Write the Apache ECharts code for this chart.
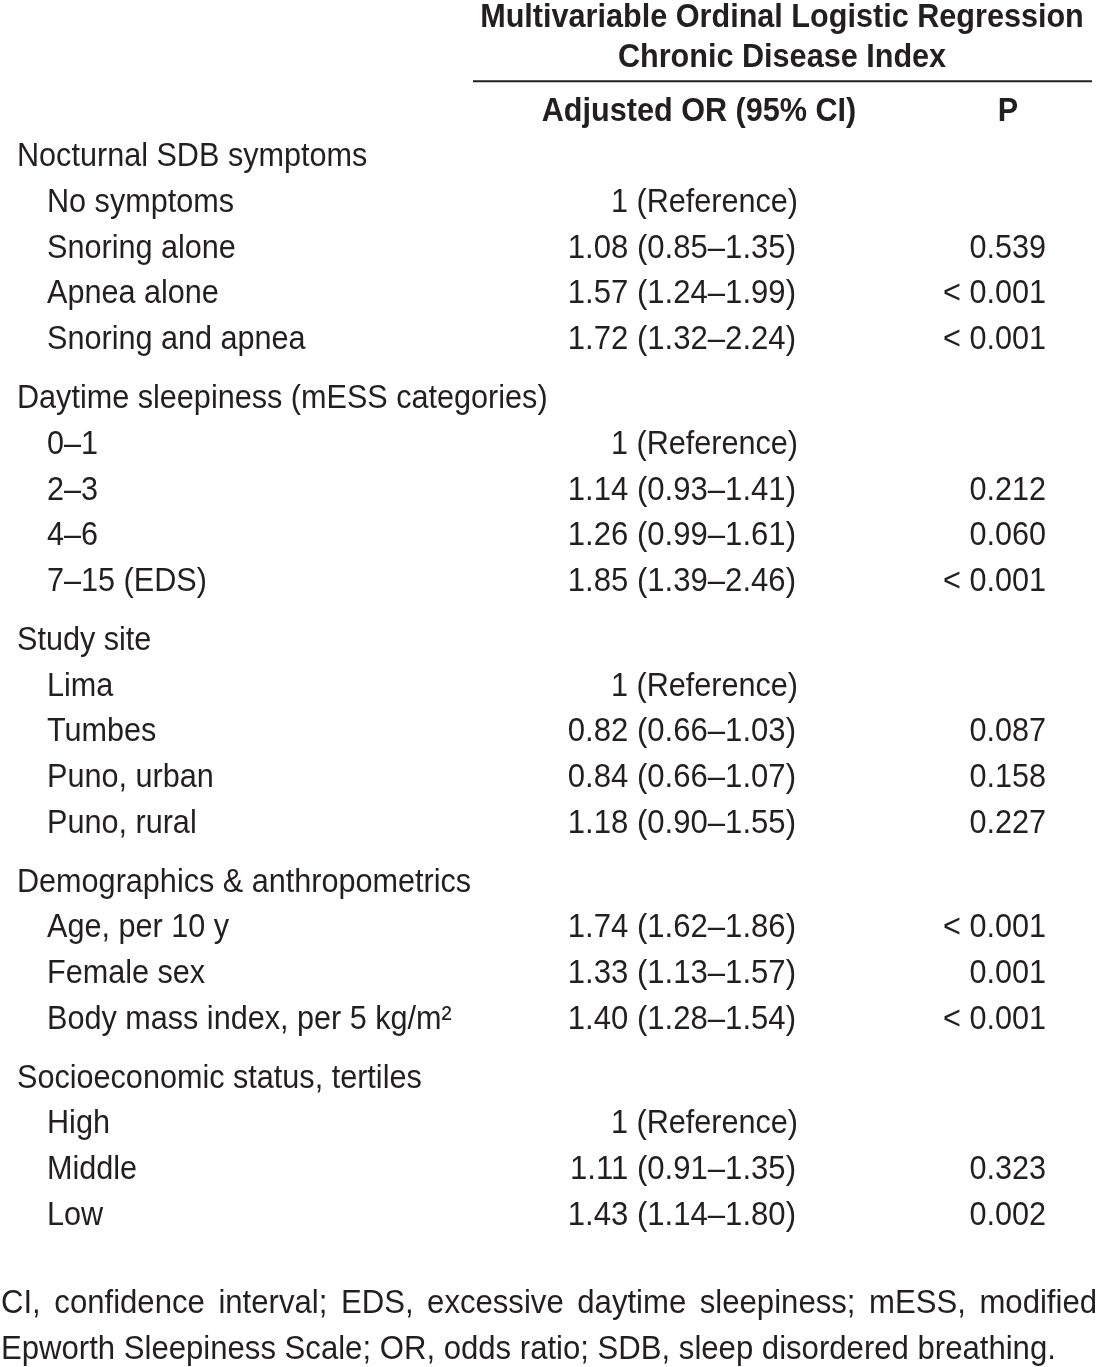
<!DOCTYPE html>
<html><head><meta charset="utf-8">
<script src="https://cdn.jsdelivr.net/npm/echarts@6/dist/echarts.min.js"></script>
<style>html,body{margin:0;padding:0;background:#fff}#chart{width:1097px;height:1367px}</style>
</head><body><div id="chart"></div>
<script>
// ---------- DATA ----------
const titleLines = ["Multivariable Ordinal Logistic Regression", "Chronic Disease Index"];
const columnHeaders = ["Adjusted OR (95% CI)", "P"];
const sections = ["Nocturnal SDB symptoms", "Daytime sleepiness (mESS categories)", "Study site", "Demographics & anthropometrics", "Socioeconomic status, tertiles"];
const variables = [
  ["No symptoms", "Snoring alone", "Apnea alone", "Snoring and apnea"],
  ["0–1", "2–3", "4–6", "7–15 (EDS)"],
  ["Lima", "Tumbes", "Puno, urban", "Puno, rural"],
  ["Age, per 10 y", "Female sex", "Body mass index, per 5 kg/m²"],
  ["High", "Middle", "Low"]
];
const oddsRatios = [[null, 1.08, 1.57, 1.72], [null, 1.14, 1.26, 1.85], [null, 0.82, 0.84, 1.18], [1.74, 1.33, 1.40], [null, 1.11, 1.43]];
const ciLower   = [[null, 0.85, 1.24, 1.32], [null, 0.93, 0.99, 1.39], [null, 0.66, 0.66, 0.90], [1.62, 1.13, 1.28], [null, 0.91, 1.14]];
const ciUpper   = [[null, 1.35, 1.99, 2.24], [null, 1.41, 1.61, 2.46], [null, 1.03, 1.07, 1.55], [1.86, 1.57, 1.54], [null, 1.35, 1.80]];
const pValues   = [[null, "0.539", "< 0.001", "< 0.001"], [null, "0.212", "0.060", "< 0.001"], [null, "0.087", "0.158", "0.227"], ["< 0.001", "0.001", "< 0.001"], [null, "0.323", "0.002"]];
const referenceLabel = "1 (Reference)";
const footnoteLines = [
  "CI, confidence interval; EDS, excessive daytime sleepiness; mESS, modified",
  "Epworth Sleepiness Scale; OR, odds ratio; SDB, sleep disordered breathing."
];

// ---------- LAYOUT / STYLE ----------
const W = 1097, H = 1367;
const ROW_PX = 45.7, FIRST_ROW_PX = 157;   // row pitch and first row middle
const SECTION_GAP = 0.29;                   // extra space before each section (in rows)
const FAMILY = '"Liberation Sans", Arial, Helvetica, sans-serif';
const FS = 34;
const FONT = FS + 'px ' + FAMILY;
const BOLD = 'bold ' + FS + 'px ' + FAMILY;
const INK = '#231f20';
const SX = 0.9, SX_NUM = 0.915, SX_FOOT = 0.915;
const COL = { section: 17, item: 47, orRight: 796, pRight: 1046, orHead: 699, pHead: 1008, title: 782, ruleL: 473, ruleR: 1092 };

// ---------- BUILD ROWS ----------
const rows = [];
let k = 0;
sections.forEach((sec, i) => {
  rows.push({ slot: k + i * SECTION_GAP, kind: 'section', label: sec });
  k++;
  variables[i].forEach((v, j) => {
    const or = oddsRatios[i][j];
    const orText = or == null ? referenceLabel : or.toFixed(2) + ' (' + ciLower[i][j].toFixed(2) + '–' + ciUpper[i][j].toFixed(2) + ')';
    rows.push({ slot: k + i * SECTION_GAP, kind: 'item', label: v, orText, isRef: or == null, p: pValues[i][j] || '' });
    k++;
  });
});
const lastSlot = rows[rows.length - 1].slot;
const footSlots = [lastSlot + 1.94, lastSlot + 2.93];

const measureCtx = document.createElement('canvas').getContext('2d');
function textW(str, font, sx) { measureCtx.font = font; return measureCtx.measureText(str).width * sx; }

function txt(x, y, text, font, align, sx) {
  return { type: 'text', x, y, scaleX: sx, style: { text, font, fill: INK, align, textAlign: align, verticalAlign: 'middle', textVerticalAlign: 'middle' } };
}

const chart = echarts.init(document.getElementById('chart'), null, { renderer: 'canvas' });
chart.setOption({
  backgroundColor: '#ffffff',
  animation: false,
  grid: { left: 0, right: 0, top: 0, bottom: 0 },
  xAxis: { type: 'value', min: 0, max: W, show: false },
  yAxis: { type: 'value', inverse: true, min: -FIRST_ROW_PX / ROW_PX, max: (H - FIRST_ROW_PX) / ROW_PX, show: false },
  series: [
    { // header block
      type: 'custom', silent: true, clip: false,
      data: [[0, -1]],
      renderItem: (params, api) => {
        const yHead = api.value(1);
        const t1 = api.coord([COL.title, yHead - 2.06]);
        const t2 = api.coord([COL.title, yHead - 1.175]);
        const rl = api.coord([COL.ruleL, yHead - 0.66]);
        const rr = api.coord([COL.ruleR, yHead - 0.66]);
        const h1 = api.coord([COL.orHead, yHead]);
        const h2 = api.coord([COL.pHead, yHead]);
        return { type: 'group', children: [
          txt(t1[0], t1[1], titleLines[0], BOLD, 'center', SX),
          txt(t2[0], t2[1], titleLines[1], BOLD, 'center', SX),
          { type: 'line', shape: { x1: rl[0], y1: rl[1], x2: rr[0], y2: rr[1] }, style: { stroke: INK, lineWidth: 2 } },
          txt(h1[0], h1[1], columnHeaders[0], BOLD, 'center', SX),
          txt(h2[0], h2[1], columnHeaders[1], BOLD, 'center', SX)
        ] };
      }
    },
    { // body rows
      type: 'custom', silent: true, clip: false,
      data: rows.map(r => [0, r.slot]),
      renderItem: (params, api) => {
        const r = rows[params.dataIndex];
        const y = api.value(1);
        if (r.kind === 'section') {
          const p = api.coord([COL.section, y]);
          return txt(p[0], p[1], r.label, FONT, 'left', SX);
        }
        const a = api.coord([COL.item, y]);
        const b = api.coord([COL.orRight, y]);
        const c = api.coord([COL.pRight, y]);
        return { type: 'group', children: [
          txt(a[0], a[1], r.label, FONT, 'left', SX),
          txt(b[0] + (r.isRef ? 2 : 0), b[1], r.orText, FONT, 'right', r.isRef ? SX : SX_NUM),
          txt(c[0], c[1], r.p, FONT, 'right', SX)
        ] };
      }
    },
    { // footnote, first line justified
      type: 'custom', silent: true, clip: false,
      data: footSlots.map(s => [0, s]),
      renderItem: (params, api) => {
        const line = footnoteLines[params.dataIndex];
        const p = api.coord([0, api.value(1)]);
        const right = api.coord([W, api.value(1)])[0];
        if (params.dataIndex === footnoteLines.length - 1) {
          return txt(p[0] + 1, p[1], line, FONT, 'left', SX_FOOT);
        }
        const words = line.split(' ');
        const ws = words.map(w => textW(w, FONT, SX_FOOT));
        const total = ws.reduce((s, v) => s + v, 0);
        const gap = (right - p[0] - 1 - total) / (words.length - 1);
        let x = p[0] + 1;
        const children = words.map((w, i) => { const el = txt(x, p[1], w, FONT, 'left', SX_FOOT); x += ws[i] + gap; return el; });
        return { type: 'group', children };
      }
    }
  ]
});
</script>
</body></html>
